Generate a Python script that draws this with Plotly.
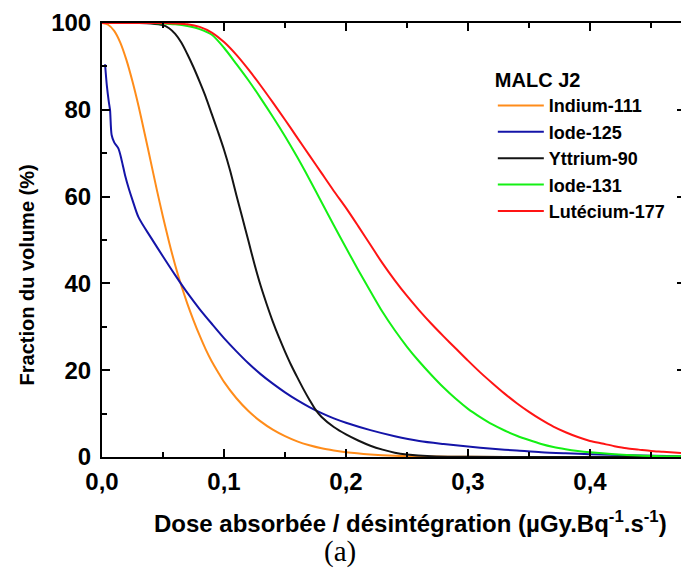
import plotly.graph_objects as go

# Cumulative dose-volume histograms, MALC J2
dose_in111 = [0, 0.005, 0.01, 0.015, 0.02, 0.025, 0.03, 0.035, 0.04, 0.045, 0.05, 0.055, 0.06, 0.065,
              0.07, 0.075, 0.08, 0.085, 0.09, 0.095, 0.10, 0.11, 0.12, 0.13, 0.14, 0.15, 0.16, 0.17,
              0.18, 0.19, 0.20, 0.22, 0.24, 0.27, 0.30, 0.35, 0.4746]
vol_in111 = [100, 99.6, 98.2, 95.5, 91.5, 86.5, 80.8, 74.5, 68, 61.5, 55.3, 49.5, 44.2, 39.5,
             35.3, 31.5, 28, 24.8, 22, 19.6, 17.3, 13.6, 10.6, 8.2, 6.3, 4.8, 3.6, 2.7,
             2.0, 1.5, 1.1, 0.6, 0.3, 0.1, 0.05, 0, 0]

dose_i125 = [0.0025, 0.004, 0.0055, 0.0066, 0.0079, 0.01, 0.0134, 0.0161, 0.019, 0.022, 0.025, 0.03,
             0.04, 0.05, 0.06, 0.07, 0.08, 0.09, 0.10, 0.11, 0.12, 0.13, 0.14, 0.15, 0.16, 0.17,
             0.18, 0.19, 0.20, 0.22, 0.24, 0.26, 0.28, 0.30, 0.32, 0.34, 0.36, 0.38, 0.40, 0.43, 0.4746]
vol_i125 = [90.5, 85.5, 82, 79.9, 74.2, 72.5, 71.1, 68.4, 64.8, 61.8, 59.2, 55.2,
            50.6, 46.2, 41.9, 37.8, 34.1, 30.7, 27.4, 24.4, 21.6, 19.1, 16.9, 14.9, 13.1, 11.5,
            10.1, 8.9, 7.9, 6.2, 4.8, 3.7, 3.0, 2.4, 1.9, 1.5, 1.1, 0.85, 0.65, 0.4, 0.2]

dose_y90 = [0, 0.03, 0.04, 0.05, 0.055, 0.06, 0.065, 0.07, 0.075, 0.08, 0.085, 0.09, 0.095, 0.10,
            0.105, 0.11, 0.115, 0.12, 0.125, 0.13, 0.135, 0.14, 0.145, 0.15, 0.155, 0.16, 0.165,
            0.17, 0.175, 0.18, 0.19, 0.20, 0.21, 0.22, 0.23, 0.24, 0.25, 0.27, 0.30, 0.35, 0.4746]
vol_y90 = [100, 100, 99.9, 99.5, 98.8, 97.5, 95.5, 92.8, 89.8, 86.5, 83, 79, 75, 70.8,
           66, 60.5, 55.2, 49.8, 44.4, 39.5, 35.2, 31.2, 27.6, 24.3, 21.2, 18.4, 15.7,
           13.2, 10.9, 9.2, 6.9, 5.2, 3.8, 2.6, 1.7, 1.0, 0.6, 0.2, 0.05, 0, 0]

dose_i131 = [0, 0.04, 0.05, 0.06, 0.07, 0.08, 0.09, 0.10, 0.11, 0.12, 0.13, 0.14, 0.15, 0.16, 0.17,
             0.18, 0.19, 0.20, 0.21, 0.22, 0.23, 0.24, 0.25, 0.26, 0.27, 0.28, 0.29, 0.30, 0.31,
             0.32, 0.33, 0.34, 0.35, 0.36, 0.37, 0.38, 0.39, 0.40, 0.42, 0.44, 0.46, 0.4746]
vol_i131 = [100, 100, 99.9, 99.7, 99.3, 98.6, 97.3, 94.3, 90.6, 86.8, 82.7, 78.4, 73.9, 69.1, 64,
            58.7, 53.4, 48.2, 43.1, 38.2, 33.4, 29.2, 25.4, 22, 18.9, 16, 13.4, 11.1, 9.2,
            7.5, 6.1, 4.9, 3.9, 3.0, 2.3, 1.8, 1.4, 1.1, 0.65, 0.35, 0.2, 0.15]

dose_lu177 = [0, 0.05, 0.06, 0.07, 0.08, 0.09, 0.10, 0.11, 0.12, 0.13, 0.14, 0.15, 0.16, 0.17, 0.18,
              0.19, 0.20, 0.21, 0.22, 0.23, 0.24, 0.25, 0.26, 0.27, 0.28, 0.29, 0.30, 0.31, 0.32,
              0.33, 0.34, 0.35, 0.36, 0.37, 0.38, 0.39, 0.40, 0.41, 0.42, 0.43, 0.44, 0.45, 0.46, 0.4746]
vol_lu177 = [100, 100, 99.9, 99.7, 99.1, 97.8, 95.6, 92.7, 89.3, 85.6, 81.7, 77.7, 73.6, 69.5, 65.4,
             61.3, 57.4, 53.2, 48.9, 44.6, 40.7, 37.1, 33.8, 30.7, 27.8, 25.0, 22.2, 19.5, 17.0,
             14.6, 12.4, 10.4, 8.6, 7.0, 5.7, 4.6, 3.7, 3.1, 2.5, 2.0, 1.7, 1.4, 1.2, 0.9]

series_names = ["Indium-111", "Iode-125", "Yttrium-90", "Iode-131", "Lutécium-177"]
series_colors = ["#FF8C1A", "#1414A8", "#141414", "#14F014", "#FF1414"]
series_x = [dose_in111, dose_i125, dose_y90, dose_i131, dose_lu177]
series_y = [vol_in111, vol_i125, vol_y90, vol_i131, vol_lu177]

x_ticks = [0.0, 0.1, 0.2, 0.3, 0.4]
x_ticktext = ["0,0", "0,1", "0,2", "0,3", "0,4"]
y_ticks = [0, 20, 40, 60, 80, 100]
y_ticktext = ["0", "20", "40", "60", "80", "100"]

FONT = "Liberation Sans"

fig = go.Figure()
for name, color, xs, ys in zip(series_names, series_colors, series_x, series_y):
    fig.add_trace(go.Scatter(
        x=xs, y=ys, mode="lines", name=name,
        line=dict(color=color, width=2, shape="spline", smoothing=0.8),
    ))

# right-hand frame ticks (no line) on an overlaid axis
fig.add_trace(go.Scatter(x=[], y=[], yaxis="y2", showlegend=False, hoverinfo="skip"))

fig.update_layout(
    width=681, height=578,
    margin=dict(l=102, r=0, t=23, b=121),
    plot_bgcolor="white", paper_bgcolor="white",
    font=dict(family=FONT, color="black"),
    showlegend=True,
    legend=dict(
        x=0.675, y=0.912, xanchor="left", yanchor="top",
        bgcolor="rgba(0,0,0,0)", borderwidth=0,
        font=dict(family=FONT, size=18, color="black", weight="bold"),
        title=dict(text="<b>MALC J2</b>", font=dict(family=FONT, size=20, color="black")),
        tracegroupgap=0,
        itemwidth=46,
    ),
    xaxis=dict(
        range=[0, 0.4746], showgrid=False, zeroline=False,
        showline=True, linewidth=2, linecolor="black", mirror="ticks",
        ticks="inside", ticklen=8, tickwidth=2, tickcolor="black",
        tickvals=x_ticks, ticktext=x_ticktext, ticklabelstandoff=2,
        tickfont=dict(family=FONT, size=24, color="black", weight="bold"),
        minor=dict(ticks="inside", ticklen=5, tickwidth=2, tickcolor="black", dtick=0.05, showgrid=False),
    ),
    yaxis=dict(
        range=[0, 100], showgrid=False, zeroline=False,
        showline=True, linewidth=2, linecolor="black",
        ticks="inside", ticklen=8, tickwidth=2, tickcolor="black",
        tickvals=y_ticks, ticktext=y_ticktext, ticklabelstandoff=4,
        tickfont=dict(family=FONT, size=24, color="black", weight="bold"),
        minor=dict(ticks="inside", ticklen=5, tickwidth=2, tickcolor="black", dtick=10, showgrid=False),
    ),
    yaxis2=dict(
        range=[0, 100], overlaying="y", side="right", anchor="x",
        showgrid=False, zeroline=False, showline=False, showticklabels=False,
        ticks="inside", ticklen=4, tickwidth=2, tickcolor="black",
        tickvals=y_ticks,
    ),
    annotations=[
        dict(text="<b>Dose absorbée / désintégration (µGy.Bq<sup>-1</sup>.s<sup>-1</sup>)</b>",
             xref="paper", yref="paper", x=0.979, y=-0.15, xanchor="right", yanchor="middle",
             showarrow=False, font=dict(family=FONT, size=24, color="black")),
        dict(text="<b>Fraction du volume (%)</b>",
             xref="paper", yref="paper", x=-0.13, y=0.42, xanchor="center", yanchor="middle",
             textangle=-90, showarrow=False, font=dict(family=FONT, size=20, color="black")),
        dict(text="(a)",
             xref="paper", yref="paper", x=0.411, y=-0.217, xanchor="center", yanchor="middle",
             showarrow=False, font=dict(family="Liberation Serif", size=29, color="black")),
    ],
)

fig.write_html("out.html")
